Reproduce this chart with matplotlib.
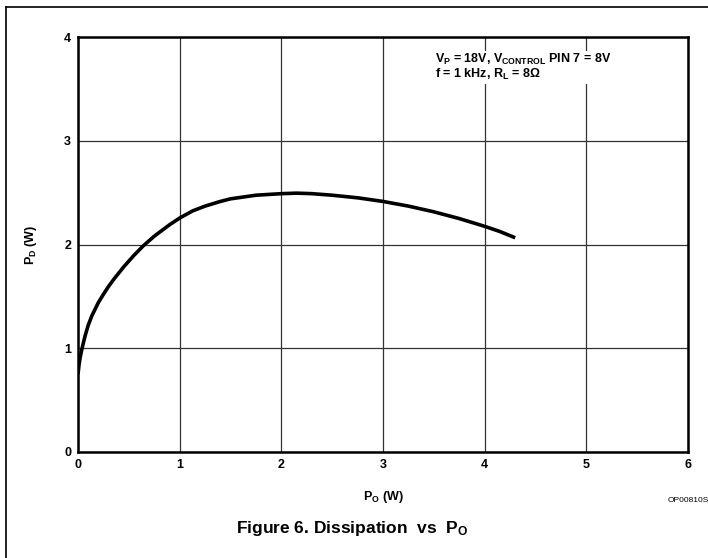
import matplotlib.pyplot as plt
from matplotlib.lines import Line2D

plt.rcParams['font.family'] = ['Liberation Sans', 'DejaVu Sans']
plt.rcParams['font.weight'] = 'bold'
plt.rcParams['axes.labelweight'] = 'bold'
plt.rcParams['mathtext.fontset'] = 'custom'
plt.rcParams['mathtext.rm'] = 'Liberation Sans:bold'
plt.rcParams['mathtext.it'] = 'Liberation Sans:bold'
plt.rcParams['mathtext.bf'] = 'Liberation Sans:bold'

# P_O (W) vs P_D (W)
po = [0.0, 0.01, 0.02, 0.04, 0.07, 0.1, 0.135, 0.2, 0.25, 0.3, 0.36, 0.45,
      0.55, 0.64, 0.75, 0.9, 1.0, 1.13, 1.25, 1.4, 1.5, 1.75, 2.0, 2.15,
      2.3, 2.5, 2.75, 3.0, 3.25, 3.5, 3.75, 4.0, 4.15, 4.3]
pd = [0.75, 0.84, 0.905, 1.0, 1.12, 1.22, 1.31, 1.44, 1.52, 1.595, 1.675,
      1.785, 1.895, 1.985, 2.08, 2.19, 2.255, 2.325, 2.37, 2.415, 2.44, 2.475,
      2.49, 2.495, 2.49, 2.475, 2.45, 2.415, 2.37, 2.315, 2.25, 2.175, 2.125,
      2.065]

x_ticks = [0, 1, 2, 3, 4, 5, 6]
y_ticks = [0, 1, 2, 3, 4]

fig = plt.figure(figsize=(7.08, 5.58), dpi=100)
ax = fig.add_axes([78 / 708, 1 - 452 / 558, 610 / 708, 415 / 558])

ax.plot(po, pd, color='black', lw=2.6, solid_capstyle='butt',
        solid_joinstyle='round', zorder=3)

ax.set_xlim(0, 6)
ax.set_ylim(0, 4)
ax.set_xticks(x_ticks)
ax.set_yticks(y_ticks)
ax.tick_params(length=0, labelsize=9, pad=5)
for lab in ax.get_xticklabels() + ax.get_yticklabels():
    lab.set_fontweight('bold')
ax.grid(True, color='#333333', lw=0.9)
for s in ax.spines.values():
    s.set_linewidth(1.8)

ax.set_xlabel(r'P$_{\rm O}$ (W)', fontsize=9, fontweight='bold', labelpad=13)
ax.set_ylabel(r'P$_{\rm D}$ (W)', fontsize=9, fontweight='bold', labelpad=18)

ax.text(3.51, 3.71, r'V$_{\rm P}$ = 18V, V$_{\rm CONTROL}$ PIN 7 = 8V' + '\n'
        + r'f = 1 kHz, R$_{\rm L}$ = 8$\Omega$',
        fontsize=9, fontweight='bold', va='center', ha='left',
        linespacing=1.0, zorder=4,
        bbox=dict(facecolor='white', edgecolor='none', pad=1))

fig.text(0.497, 1 - 528 / 558, r'Figure 6. Dissipation  vs  P$_{\rm O}$',
         fontsize=12.5, fontweight='bold', ha='center', va='center')
fig.text(668 / 708, 1 - 500 / 558, 'OP00810S', fontsize=6, fontweight='normal',
         ha='left', va='center')

# outer frame (top and left edges)
fig.add_artist(Line2D([6 / 708, 1.0], [1 - 7 / 558, 1 - 7 / 558],
                      transform=fig.transFigure, color='black', lw=1.2))
fig.add_artist(Line2D([6 / 708, 6 / 708], [0.0, 1 - 7 / 558],
                      transform=fig.transFigure, color='black', lw=1.2))

fig.savefig('out.png', dpi=100)
